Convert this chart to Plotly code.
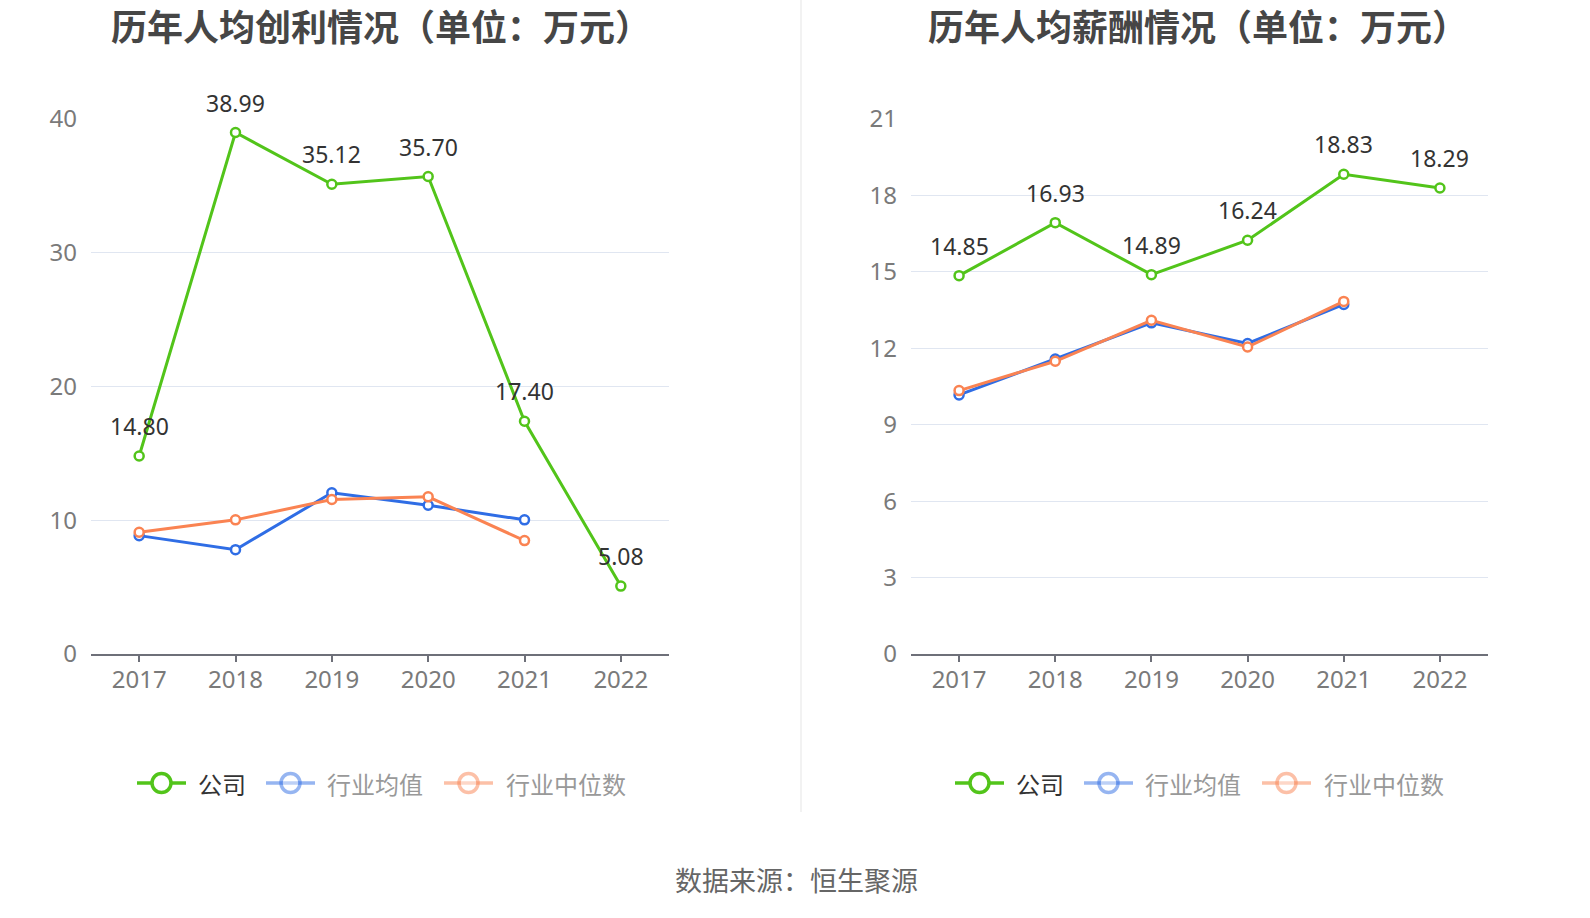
import plotly.graph_objects as go

years = ['2017', '2018', '2019', '2020', '2021', '2022']
years_ind = ['2017', '2018', '2019', '2020', '2021']

profit_company = [14.80, 38.99, 35.12, 35.70, 17.40, 5.08]
profit_avg = [8.85, 7.80, 12.05, 11.12, 10.03]
profit_median = [9.10, 10.03, 11.55, 11.75, 8.48]

salary_company = [14.85, 16.93, 14.89, 16.24, 18.83, 18.29]
salary_avg = [10.17, 11.58, 13.00, 12.19, 13.72]
salary_median = [10.34, 11.49, 13.10, 12.05, 13.84]

series_names = ['公司', '行业均值', '行业中位数']
titles = ['历年人均创利情况（单位：万元）', '历年人均薪酬情况（单位：万元）']
source_text = '数据来源：恒生聚源'

GREEN = '#52C41A'
BLUE = '#2F6DE5'
ORANGE = '#FA8352'
COLORS = [GREEN, BLUE, ORANGE]
FONT = 'Noto Sans, Noto Sans CJK SC, sans-serif'
W, H = 1590, 918


def px_x(p):
    return p / W


def px_y(p):
    return (H - p) / H


fig = go.Figure()


def add_panel(xa, ya, comp, avg, med):
    for name, ys, xs, col in [(series_names[0], comp, years, GREEN),
                              (series_names[1], avg, years_ind, BLUE),
                              (series_names[2], med, years_ind, ORANGE)]:
        fig.add_trace(go.Scatter(
            x=xs, y=ys, xaxis=xa, yaxis=ya, mode='lines+markers', name=name,
            line=dict(color=col, width=3),
            marker=dict(symbol='circle', size=9, color='white', line=dict(color=col, width=2.5)),
            showlegend=False))
    # data labels for the company series
    for i, v in enumerate(comp):
        fig.add_annotation(x=i, y=v, xref=xa, yref=ya, text='%.2f' % v,
                           showarrow=False, xanchor='center', yanchor='middle', yshift=30,
                           font=dict(family=FONT, size=23, color='#333333'))


add_panel('x', 'y', profit_company, profit_avg, profit_median)
add_panel('x2', 'y2', salary_company, salary_avg, salary_median)

xcommon = dict(type='category', range=[-0.5, 5.5], showgrid=False, showline=True,
               linecolor='#6E7079', linewidth=2, ticks='outside', ticklen=6,
               tickcolor='#6E7079', tickwidth=1.5, zeroline=False, automargin=False,
               tickfont=dict(family=FONT, size=24, color='#7A7A7A'), ticklabelstandoff=-3,
               fixedrange=True)
ycommon = dict(showgrid=True, gridcolor='#E0E6F1', gridwidth=1, showline=False,
               zeroline=False, ticks='', automargin=False,
               tickfont=dict(family=FONT, size=24, color='#7A7A7A'),
               ticklabelstandoff=13, fixedrange=True)

fig.update_layout(
    template='none',
    width=W, height=H,
    margin=dict(l=0, r=0, t=0, b=0, pad=0, autoexpand=False),
    paper_bgcolor='white', plot_bgcolor='white',
    font=dict(family=FONT),
    showlegend=False,
    xaxis=dict(xcommon, domain=[px_x(91), px_x(669)], anchor='y'),
    yaxis=dict(ycommon, domain=[px_y(654), px_y(119)], anchor='x', range=[0, 40], dtick=10),
    xaxis2=dict(xcommon, domain=[px_x(911), px_x(1488)], anchor='y2'),
    yaxis2=dict(ycommon, domain=[px_y(654), px_y(119)], anchor='x2', range=[0, 21], dtick=3),
)

# legends (one per panel), drawn as line+hollow-circle keys with text
legend_sym_x = [137, 266, 444]       # left edge of each key line (left panel, px)
legend_txt_x = [196, 325, 504]       # left edge of each label (left panel, px)
panel_offset = [0, 818]
LEG_Y = 783
for off in panel_offset:
    for k in range(3):
        col = COLORS[k]
        op = 1.0 if k == 0 else 0.5
        x0 = legend_sym_x[k] + off
        fig.add_shape(type='line', xref='paper', yref='paper',
                      x0=px_x(x0), x1=px_x(x0 + 49), y0=px_y(LEG_Y), y1=px_y(LEG_Y),
                      line=dict(color=col, width=3.5), opacity=op, layer='above')
        cx = x0 + 24.5
        r = 9.5
        fig.add_shape(type='circle', xref='paper', yref='paper',
                      x0=px_x(cx - r), x1=px_x(cx + r), y0=px_y(LEG_Y + r), y1=px_y(LEG_Y - r),
                      line=dict(color=col, width=3.5),
                      fillcolor='white' if k == 0 else 'rgba(255,255,255,0.75)',
                      opacity=op, layer='above')
        fig.add_annotation(text=series_names[k], xref='paper', yref='paper',
                           x=px_x(legend_txt_x[k] + off), y=px_y(LEG_Y),
                           xanchor='left', yanchor='middle', showarrow=False,
                           font=dict(family='Noto Sans CJK SC', size=24,
                                     color='#333333' if k == 0 else '#999999'))

for t, cx in zip(titles, [381, 1198]):
    fig.add_annotation(text='<b>%s</b>' % t, xref='paper', yref='paper', x=px_x(cx), y=px_y(25),
                       xanchor='center', yanchor='middle', showarrow=False, borderpad=0,
                       font=dict(family='Noto Sans CJK SC', size=36, color='#464646'))

fig.add_annotation(text=source_text, xref='paper', yref='paper', x=px_x(796), y=px_y(879),
                   xanchor='center', yanchor='middle', showarrow=False,
                   font=dict(family='Noto Sans CJK SC', size=27, color='#666666'))

fig.add_shape(type='line', xref='paper', yref='paper', x0=px_x(801), x1=px_x(801),
              y0=px_y(0), y1=px_y(812), line=dict(color='#EEEEEE', width=1.5))

fig.write_html('out.html')
